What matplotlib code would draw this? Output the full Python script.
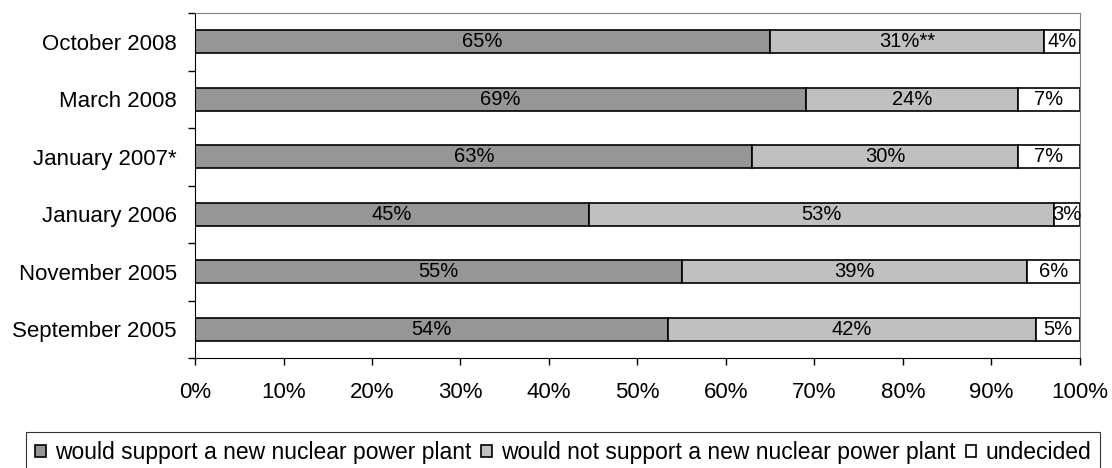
import numpy as np
import matplotlib as mpl
from matplotlib import pyplot as plt
from matplotlib.ticker import FixedLocator, PercentFormatter

mpl.rcParams['font.family'] = ['Liberation Sans', 'DejaVu Sans']
mpl.rcParams['font.size'] = 16

# survey waves, bottom to top
periods = ['September 2005', 'November 2005', 'January 2006',
           'January 2007*', 'March 2008', 'October 2008']
support = [54, 55, 45, 63, 69, 65]
oppose = [42, 39, 53, 30, 24, 31]
undecided = [5, 6, 3, 7, 7, 4]
oppose_notes = ['', '', '', '', '', '**']

series = ['would support a new nuclear power plant',
          'would not support a new nuclear power plant',
          'undecided']
colours = ['#969696', '#c0c0c0', '#ffffff']

data = np.array([support, oppose, undecided], dtype=float)
# 100% stacked: each row scaled by its total
shares = data / data.sum(axis=0) * 100

fig = plt.figure(figsize=(11.12, 4.68), dpi=100)
ax = fig.add_axes([0.1754, 0.235, 0.7957, 0.737])

y = np.arange(len(periods))
left = np.zeros(len(periods))
for k in range(3):
	ax.barh(y, shares[k], left=left, height=0.4, color=colours[k],
	        edgecolor='black', linewidth=1.2, label=series[k])
	for i in range(len(periods)):
		note = oppose_notes[i] if k == 1 else ''
		ax.text(left[i] + shares[k][i] / 2, y[i],
		        '{:.0f}%{}'.format(data[k][i], note),
		        ha='center', va='center', fontsize=14.5)
	left += shares[k]

ax.set_xlim(0, 100)
ax.set_ylim(-0.5, len(periods) - 0.5)
ax.xaxis.set_major_locator(FixedLocator(np.arange(0, 101, 10)))
ax.xaxis.set_major_formatter(PercentFormatter(decimals=0))
ax.set_yticks(y)
ax.set_yticklabels(periods)
ax.yaxis.set_minor_locator(FixedLocator(np.arange(-0.5, len(periods), 1)))
ax.tick_params(axis='y', which='major', length=0, pad=13)
ax.tick_params(axis='y', which='minor', length=5, width=1, direction='out')
ax.tick_params(axis='x', length=5, width=1, direction='out', pad=12)

for side in ('top', 'right'):
	ax.spines[side].set_color('#808080')
for side in ('left', 'bottom'):
	ax.spines[side].set_color('black')

leg = fig.legend(loc='lower center', bbox_to_anchor=(0.5065, -0.026), ncol=3,
                 frameon=True, fancybox=False, edgecolor='black',
                 handlelength=0.45, handleheight=0.45, handletextpad=0.4,
                 columnspacing=0.45, borderpad=0.4, borderaxespad=0.3,
                 fontsize=16.5)
leg.get_frame().set_linewidth(0.8)

fig.savefig('out.png', dpi=100)
